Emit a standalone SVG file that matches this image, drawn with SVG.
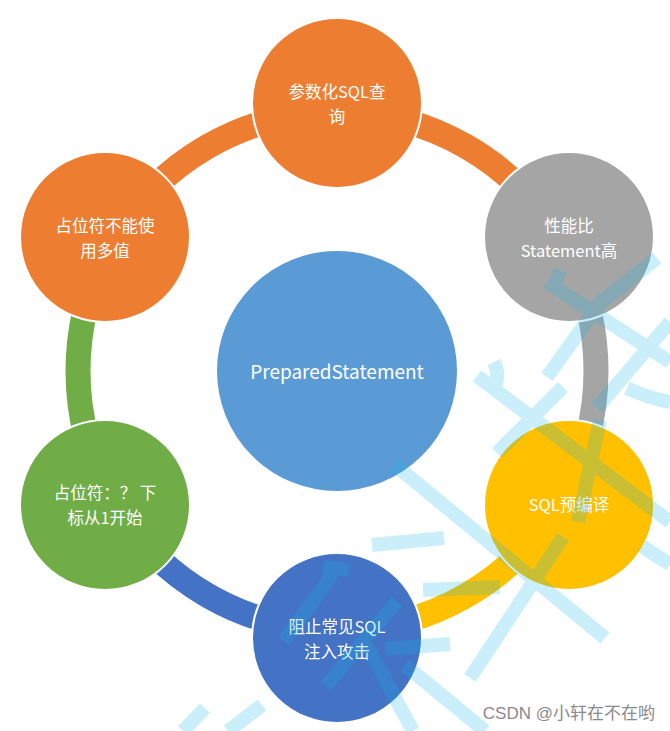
<svg xmlns="http://www.w3.org/2000/svg" width="670" height="731" viewBox="0 0 670 731">
<style>
.arc{fill:none;stroke-width:25}
.node{stroke:#fff;stroke-width:2}
.lbl{font-family:"Noto Sans CJK SC","Noto Sans",sans-serif;font-size:16.5px;fill:#fff;text-anchor:middle;dominant-baseline:central}
.wm{fill:none;stroke:rgb(12,184,241);stroke-width:14}
</style>
<rect width="670" height="731" fill="#fff"/>
<g id="connectors">
<path class="arc" stroke="#ED7D31" d="M337 112 A259 259 0 0 1 561.3 241.5"/>
<path class="arc" stroke="#A5A5A5" d="M561.3 241.5 A259 259 0 0 1 561.3 500.5"/>
<path class="arc" stroke="#FFC000" d="M561.3 500.5 A259 259 0 0 1 337 630"/>
<path class="arc" stroke="#4472C4" d="M337 630 A259 259 0 0 1 112.7 500.5"/>
<path class="arc" stroke="#70AD47" d="M112.7 500.5 A259 259 0 0 1 112.7 241.5"/>
<path class="arc" stroke="#ED7D31" d="M112.7 241.5 A259 259 0 0 1 337 112"/>
</g>
<g id="n-top"><circle class="node" cx="337" cy="103" r="85" fill="#ED7D31"/>
<text class="lbl"><tspan x="337" y="91">参数化SQL查</tspan><tspan x="337" y="115.5">询</tspan></text></g>
<g id="n-ur"><circle class="node" cx="569" cy="237" r="85" fill="#A5A5A5"/>
<text class="lbl"><tspan x="569" y="225">性能比</tspan><tspan x="569" y="249.5">Statement高</tspan></text></g>
<g id="n-lr"><circle class="node" cx="569" cy="505" r="85" fill="#FFC000"/>
<text class="lbl" x="569" y="504">SQL预编译</text></g>
<g id="n-bottom"><circle class="node" cx="337" cy="638" r="85" fill="#4472C4"/>
<text class="lbl"><tspan x="337" y="626">阻止常见SQL</tspan><tspan x="337" y="650.5">注入攻击</tspan></text></g>
<g id="n-ll"><circle class="node" cx="105" cy="505" r="85" fill="#70AD47"/>
<text class="lbl"><tspan x="105" y="492">占位符：？ 下</tspan><tspan x="105" y="516.5">标从1开始</tspan></text></g>
<g id="n-ul"><circle class="node" cx="105" cy="237" r="85" fill="#ED7D31"/>
<text class="lbl"><tspan x="105" y="225">占位符不能使</tspan><tspan x="105" y="249.5">用多值</tspan></text></g>
<g id="n-center"><circle class="node" cx="337" cy="371" r="121" fill="#5B9BD5"/>
<text class="lbl" x="337" y="370" style="font-size:19px">PreparedStatement</text></g>
<g id="watermark" opacity="0.21">
<path class="wm" d="M560 270 Q556 282 553 286 L670 362"/>
<path class="wm" d="M657 258 L600 303 L547 377"/>
<path class="wm" d="M563 387 L497 453"/>
<path class="wm" d="M670 322 L597 408"/>
<path class="wm" d="M627 388 Q648 398 670 402"/>
<path class="wm" d="M494 362 Q499 372 496 384"/>
<path class="wm" d="M477 376 L670 522"/>
<path class="wm" d="M600 420 L578 522"/>
<path class="wm" d="M563 537 L470 678"/>
<path class="wm" d="M395 465 L605 638"/>
<path class="wm" d="M372 545 L444 538"/>
<path class="wm" d="M423 590 L500 587"/>
<path class="wm" d="M385 649 L450 644"/>
<path class="wm" d="M323 567 L349 570 M337 568 L284 641"/>
<path class="wm" d="M397 601 L326 686"/>
<path class="wm" d="M362 637 L413 731"/>
<path class="wm" d="M405 665 L485 731"/>
<path class="wm" d="M183 731 L205 708 M228 731 L262 705"/>
<path class="wm" d="M642 546 Q656 556 670 564"/>
</g>
<text x="655" y="713" text-anchor="end" dominant-baseline="central" style="font-family:'Liberation Sans','Noto Sans CJK SC',sans-serif;font-size:17px;fill:#8a8a8a">CSDN @小轩在不在哟</text>
</svg>
